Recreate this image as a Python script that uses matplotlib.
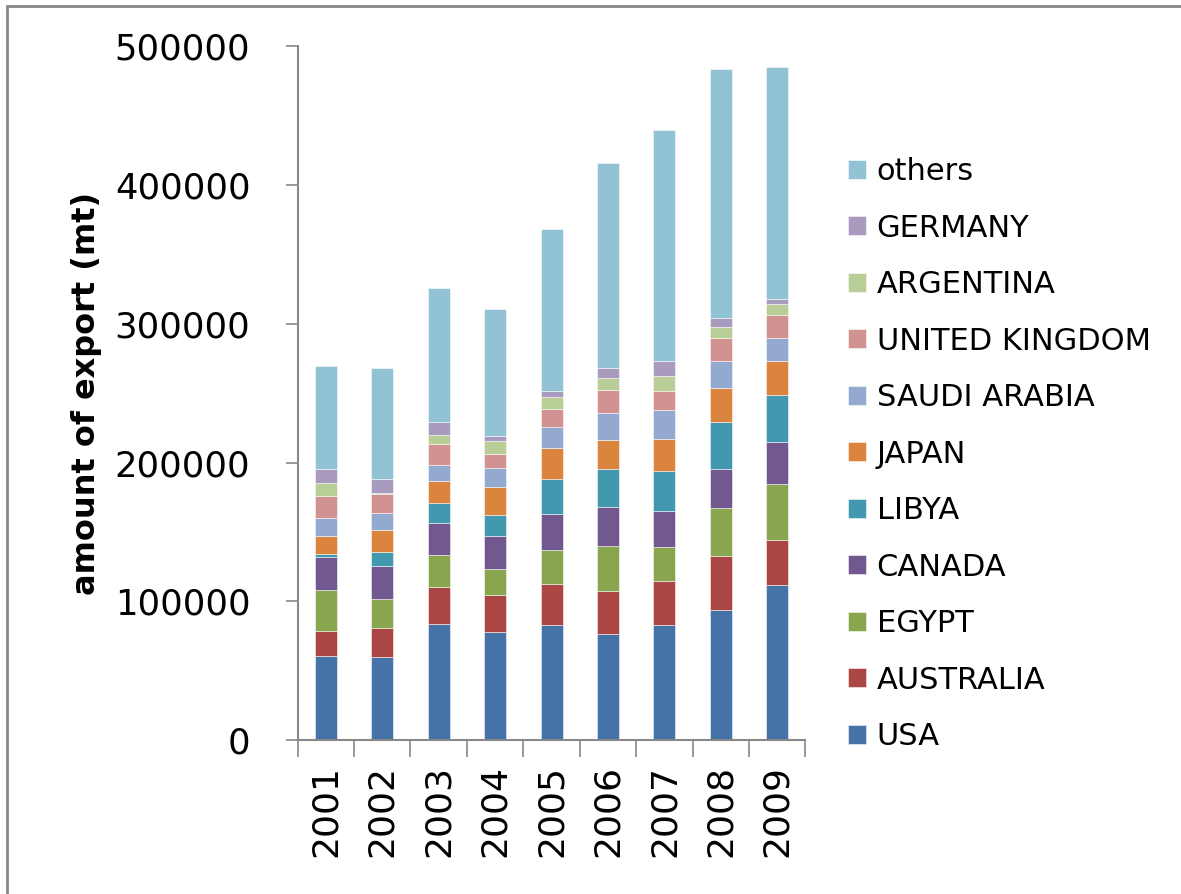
import numpy as np
import matplotlib
matplotlib.use("Agg")
from matplotlib import pyplot as plt
from matplotlib.patches import Rectangle

years = ['2001', '2002', '2003', '2004', '2005', '2006', '2007', '2008', '2009']

# export amounts per destination (mt), stacked bottom to top
usa = [60700, 59600, 83700, 77700, 83100, 76800, 83100, 93900, 111800]
australia = [17700, 21200, 26400, 26600, 29600, 30600, 31500, 39000, 32400]
egypt = [29500, 21100, 23300, 19000, 24000, 32600, 24900, 34500, 40000]
canada = [23800, 23300, 23300, 23500, 26500, 27700, 25600, 28100, 30600]
libya = [2200, 10100, 14200, 15200, 25100, 27300, 29100, 34000, 34000]
japan = [13200, 16100, 15800, 20100, 22400, 21200, 22900, 24500, 24000]
saudi_arabia = [12700, 12000, 11600, 14000, 14900, 19600, 20900, 19400, 16600]
united_kingdom = [15800, 13700, 14800, 10300, 13200, 16400, 13600, 16000, 17200]
argentina = [9400, 1000, 6800, 9400, 8400, 9000, 11000, 8000, 7400]
germany = [10100, 10100, 9100, 3100, 4400, 7000, 10800, 6900, 3900]
others = [74200, 80000, 97000, 92000, 116500, 147700, 166200, 179300, 167100]

series = [
    ('USA', usa, '#4572A7'),
    ('AUSTRALIA', australia, '#AA4643'),
    ('EGYPT', egypt, '#89A54E'),
    ('CANADA', canada, '#71588F'),
    ('LIBYA', libya, '#4198AF'),
    ('JAPAN', japan, '#DB843D'),
    ('SAUDI ARABIA', saudi_arabia, '#93A9CF'),
    ('UNITED KINGDOM', united_kingdom, '#D19392'),
    ('ARGENTINA', argentina, '#B9CD96'),
    ('GERMANY', germany, '#A99BBD'),
    ('others', others, '#92C3D4'),
]

fig = plt.figure(figsize=(11.81, 8.94), dpi=100)
ax = fig.add_axes([0.252, 0.172, 0.430, 0.7765])

x = np.arange(len(years))
bottom = np.zeros(len(years))
handles = []
for name, vals, color in series:
    b = ax.bar(x, vals, width=0.39, bottom=bottom, color=color,
               edgecolor=(1, 1, 1, 0.6), linewidth=0.6, label=name)
    handles.append(b)
    bottom += np.array(vals)

ax.set_xlim(-0.5, len(years) - 0.5)
ax.set_ylim(0, 500000)
ax.set_yticks(range(0, 500001, 100000))
ax.set_yticklabels([str(v) for v in range(0, 500001, 100000)], fontsize=25.5)
ax.tick_params(axis='y', length=9, width=1.2, color='#888888', pad=25)

ax.set_xticks(x)
ax.set_xticklabels(years, rotation=90, fontsize=26)
ax.set_xticks(np.arange(-0.5, len(years)), minor=True)
ax.tick_params(axis='x', which='major', length=0, pad=18)
ax.tick_params(axis='x', which='minor', length=12, width=1.2, color='#888888')

for side in ['top', 'right']:
    ax.spines[side].set_visible(False)
for side in ['left', 'bottom']:
    ax.spines[side].set_color('#888888')
    ax.spines[side].set_linewidth(1.5)

ax.set_ylabel('amount of export (mt)', fontsize=23, fontweight='bold')
ax.yaxis.set_label_coords(-0.385, 0.5)

leg = fig.legend(handles[::-1], [s[0] for s in series][::-1],
                 loc='upper left', bbox_to_anchor=(0.695, 0.855),
                 frameon=False, fontsize=22, handlelength=0.58,
                 handleheight=0.58, handletextpad=0.35, labelspacing=0.9)

# outer chart border
fig.patches.append(Rectangle((7 / 1181, -0.05), 1.2, 0.05 + 1 - 6 / 894,
                             transform=fig.transFigure, fill=False,
                             edgecolor='#888888', linewidth=2))

fig.savefig('out.png', dpi=100)
